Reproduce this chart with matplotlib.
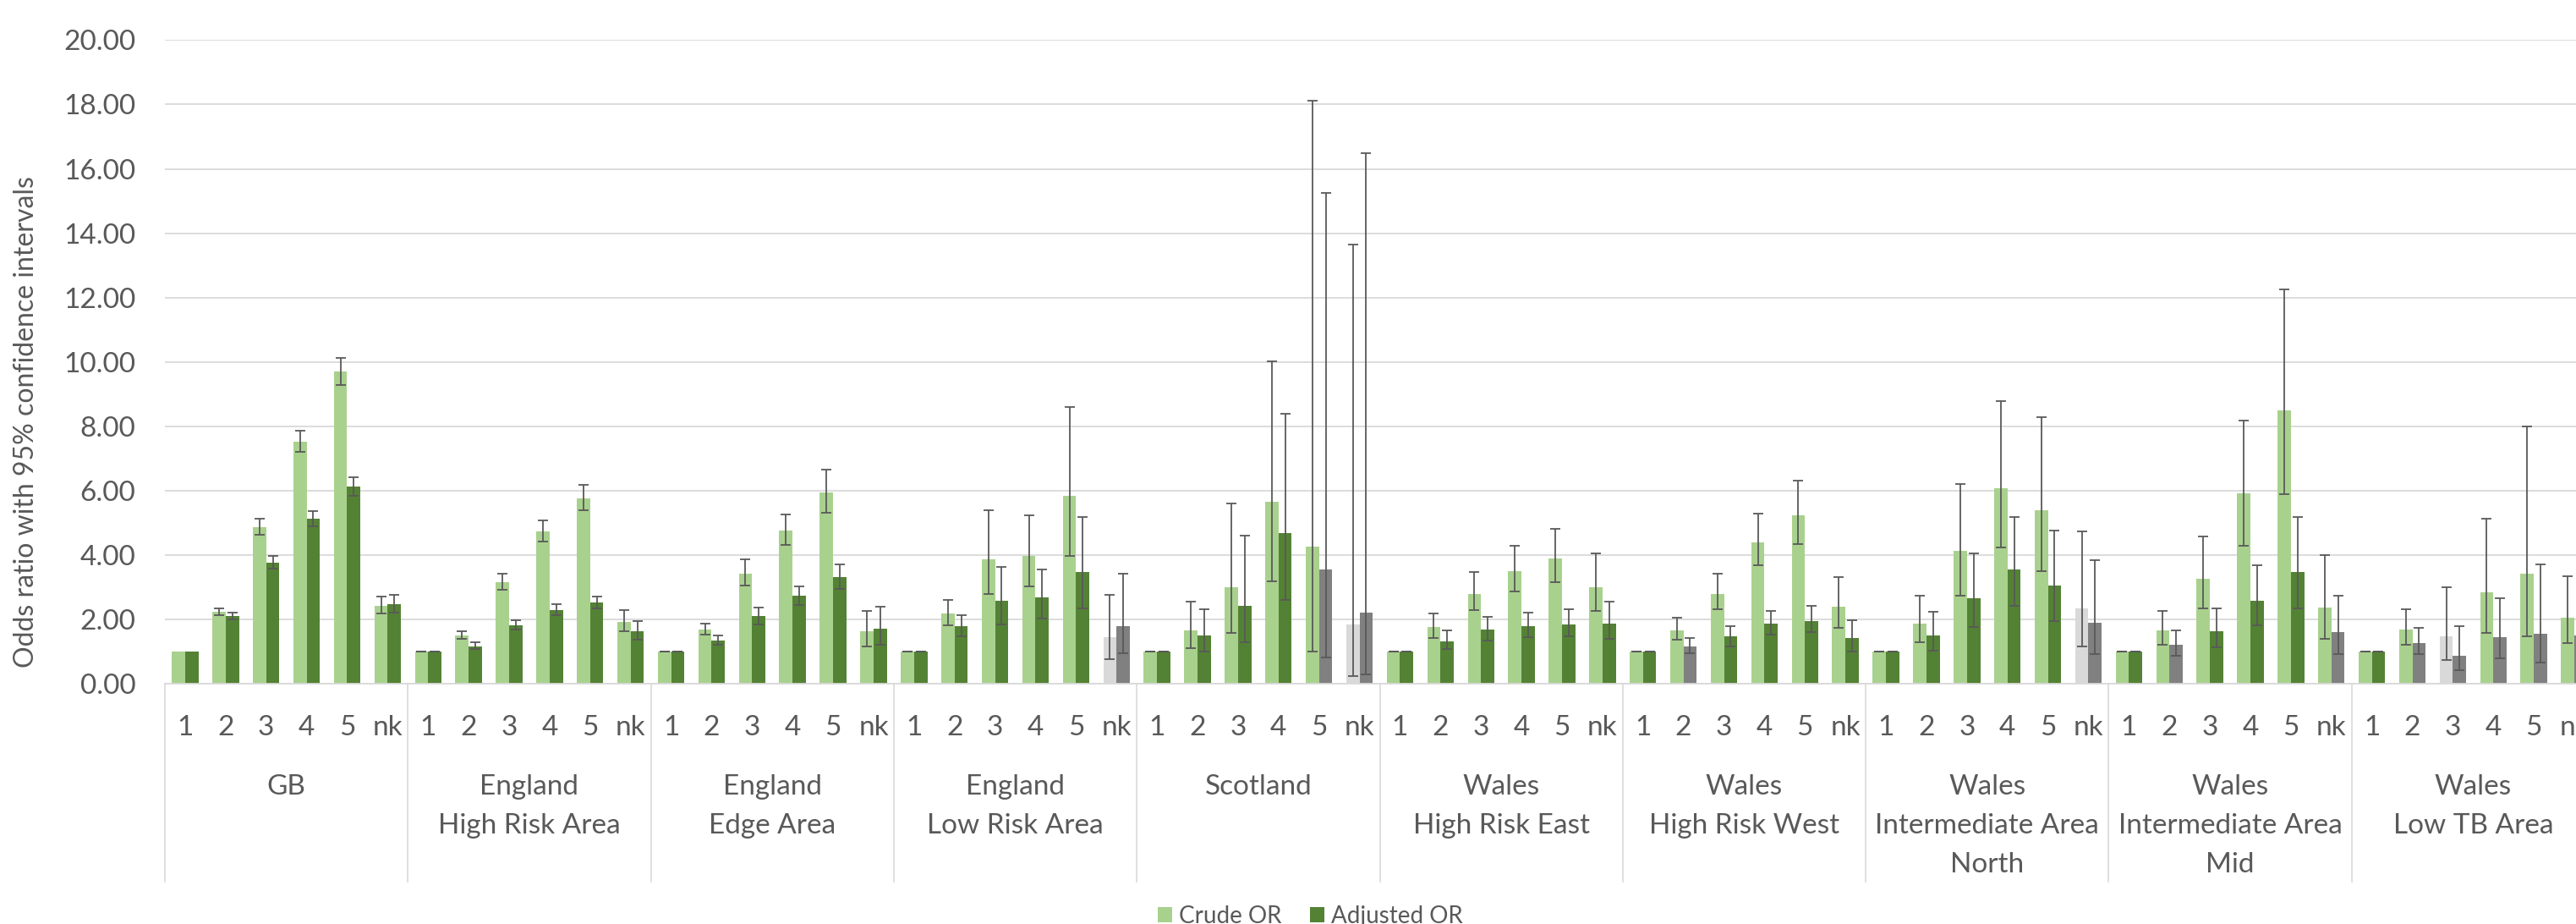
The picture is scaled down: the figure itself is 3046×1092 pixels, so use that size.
import numpy as np
import matplotlib.pyplot as plt
from matplotlib.patches import Patch
from matplotlib.transforms import blended_transform_factory

plt.rcParams['font.family'] = ['Lato', 'DejaVu Sans']

# categories
groups = ["GB", "England\nHigh Risk Area", "England\nEdge Area", "England\nLow Risk Area",
          "Scotland", "Wales\nHigh Risk East", "Wales\nHigh Risk West",
          "Wales\nIntermediate Area\nNorth", "Wales\nIntermediate Area\nMid", "Wales\nLow TB Area"]
cats = ["1", "2", "3", "4", "5", "nk"]
nan = np.nan

# crude odds ratios and 95% CI (one row per group)
crude = [1.00, 2.23, 4.87, 7.52, 9.69, 2.42,
         1.00, 1.50, 3.16, 4.74, 5.76, 1.92,
         1.00, 1.69, 3.43, 4.75, 5.93, 1.63,
         1.00, 2.17, 3.86, 3.98, 5.84, 1.45,
         1.00, 1.66, 3.00, 5.66, 4.26, 1.84,
         1.00, 1.76, 2.80, 3.49, 3.90, 3.01,
         1.00, 1.66, 2.80, 4.39, 5.23, 2.39,
         1.00, 1.88, 4.13, 6.07, 5.38, 2.33,
         1.00, 1.66, 3.26, 5.92, 8.49, 2.36,
         1.00, 1.68, 1.48, 2.84, 3.43, 2.05]
crude_lo = [nan, 2.13, 4.63, 7.21, 9.27, 2.18,
            1.00, 1.39, 2.93, 4.43, 5.39, 1.62,
            1.00, 1.53, 3.05, 4.30, 5.30, 1.17,
            1.00, 1.82, 2.79, 3.03, 3.98, 0.77,
            1.00, 1.10, 1.59, 3.19, 0.99, 0.23,
            1.00, 1.43, 2.28, 2.86, 3.16, 2.25,
            1.00, 1.36, 2.31, 3.67, 4.34, 1.74,
            1.00, 1.30, 2.74, 4.23, 3.50, 1.16,
            1.00, 1.22, 2.33, 4.29, 5.88, 1.39,
            1.00, 1.22, 0.74, 1.57, 1.48, 1.27]
crude_hi = [nan, 2.35, 5.12, 7.87, 10.13, 2.72,
            1.00, 1.63, 3.41, 5.07, 6.17, 2.28,
            1.00, 1.87, 3.86, 5.26, 6.64, 2.27,
            1.00, 2.61, 5.39, 5.24, 8.59, 2.75,
            1.00, 2.54, 5.61, 10.03, 18.13, 13.64,
            1.00, 2.19, 3.46, 4.29, 4.82, 4.04,
            1.00, 2.04, 3.42, 5.28, 6.32, 3.31,
            1.00, 2.73, 6.21, 8.78, 8.27, 4.74,
            1.00, 2.25, 4.57, 8.17, 12.26, 3.99,
            1.00, 2.32, 3.00, 5.14, 8.00, 3.34]

# adjusted odds ratios and 95% CI
adj = [1.00, 2.10, 3.75, 5.12, 6.13, 2.46,
       1.00, 1.17, 1.81, 2.30, 2.52, 1.63,
       1.00, 1.34, 2.10, 2.73, 3.31, 1.70,
       1.00, 1.78, 2.59, 2.68, 3.47, 1.78,
       1.00, 1.50, 2.43, 4.67, 3.55, 2.20,
       1.00, 1.32, 1.68, 1.79, 1.84, 1.88,
       1.00, 1.15, 1.46, 1.86, 1.95, 1.41,
       1.00, 1.50, 2.66, 3.55, 3.04, 1.89,
       1.00, 1.20, 1.63, 2.58, 3.47, 1.60,
       1.00, 1.25, 0.86, 1.45, 1.55, 1.50]
adj_lo = [nan, 2.00, 3.58, 4.90, 5.85, 2.20,
          1.00, 1.08, 1.68, 2.14, 2.33, 1.36,
          1.00, 1.21, 1.85, 2.44, 2.94, 1.21,
          1.00, 1.48, 1.85, 2.02, 2.34, 0.95,
          1.00, 0.99, 1.29, 2.61, 0.81, 0.29,
          1.00, 1.09, 1.35, 1.44, 1.46, 1.40,
          1.00, 0.95, 1.17, 1.52, 1.60, 1.01,
          1.00, 1.03, 1.76, 2.42, 1.95, 0.92,
          1.00, 0.88, 1.13, 1.82, 2.34, 0.92,
          1.00, 0.91, 0.42, 0.78, 0.66, 0.90]
adj_hi = [nan, 2.20, 3.96, 5.36, 6.42, 2.75,
          1.00, 1.28, 1.97, 2.47, 2.71, 1.95,
          1.00, 1.49, 2.37, 3.03, 3.72, 2.39,
          1.00, 2.13, 3.62, 3.54, 5.17, 3.42,
          1.00, 2.32, 4.60, 8.38, 15.26, 16.48,
          1.00, 1.65, 2.09, 2.20, 2.31, 2.56,
          1.00, 1.42, 1.80, 2.27, 2.42, 1.97,
          1.00, 2.23, 4.06, 5.19, 4.77, 3.84,
          1.00, 1.65, 2.33, 3.67, 5.17, 2.73,
          1.00, 1.74, 1.78, 2.66, 3.72, 2.60]

# non-significant results (drawn grey)
crude_ns = [0, 0, 0, 0, 0, 0,
            0, 0, 0, 0, 0, 0,
            0, 0, 0, 0, 0, 0,
            0, 0, 0, 0, 0, 1,
            0, 0, 0, 0, 0, 1,
            0, 0, 0, 0, 0, 0,
            0, 0, 0, 0, 0, 0,
            0, 0, 0, 0, 0, 1,
            0, 0, 0, 0, 0, 0,
            0, 0, 1, 0, 0, 0]
adj_ns = [0, 0, 0, 0, 0, 0,
          0, 0, 0, 0, 0, 0,
          0, 0, 0, 0, 0, 0,
          0, 0, 0, 0, 0, 1,
          0, 0, 0, 0, 1, 1,
          0, 0, 0, 0, 0, 0,
          0, 1, 0, 0, 0, 0,
          0, 0, 0, 0, 0, 1,
          0, 1, 0, 0, 0, 1,
          0, 1, 1, 1, 1, 1]

crude = np.array(crude)
adj = np.array(adj)
crude_err = [crude - np.array(crude_lo), np.array(crude_hi) - crude]
adj_err = [adj - np.array(adj_lo), np.array(adj_hi) - adj]

W, H = 3046, 1092
txt = '#595959'
grid = '#D9D9D9'

fig = plt.figure(figsize=(W / 100, H / 100), dpi=100)
# plot area runs past the right edge, as in the cropped original
ax = fig.add_axes([195 / W, 284 / H, 2873 / W, 760.6 / H])

x = np.arange(len(crude))
bw = 0.328
ccol = ['#D9D9D9' if n else '#A9D18E' for n in crude_ns]
acol = ['#808080' if n else '#548235' for n in adj_ns]
ax.bar(x - bw / 2, crude, bw, color=ccol, zorder=2)
ax.bar(x + bw / 2, adj, bw, color=acol, zorder=2)
for xs, ys, err in [(x - bw / 2, crude, crude_err), (x + bw / 2, adj, adj_err)]:
    ax.errorbar(xs, ys, yerr=err, fmt='none', ecolor=txt, elinewidth=1.3,
                capsize=4.5, capthick=1.3, zorder=3)

ax.set_xlim(-0.5, len(crude) - 0.5)
ax.set_ylim(0, 20)
ax.set_yticks(np.arange(0, 21, 2))
ax.set_yticklabels([f'{v:.2f}' for v in np.arange(0, 21, 2)])
ax.tick_params(axis='y', length=0, pad=25, labelsize=24, labelcolor=txt)
ax.set_xticks([])
ax.grid(axis='y', color=grid, lw=1.3)
ax.set_axisbelow(True)
for s in ['top', 'right', 'left']:
    ax.spines[s].set_visible(False)
ax.spines['bottom'].set_color(grid)
ax.spines['bottom'].set_linewidth(1.3)

# multi-level category axis
trans = blended_transform_factory(ax.transData, fig.transFigure)
for i in x:
    ax.text(i, 1 - 869 / H, cats[i % 6], transform=trans, ha='center', va='baseline',
            fontsize=24, color=txt)
for g, name in enumerate(groups):
    for j, line in enumerate(name.split('\n')):
        ax.text(6 * g + 2.5, 1 - (939 + 46 * j) / H, line, transform=trans,
                ha='center', va='baseline', fontsize=24, color=txt)
for k in range(len(groups) + 1):
    ax.plot([6 * k - 0.5] * 2, [1 - 808 / H, 1 - 1042 / H], transform=trans,
            color=grid, lw=1.2, clip_on=False)

fig.text(31 / W, 1 - 499 / H, 'Odds ratio with 95% confidence intervals', rotation=90,
         ha='center', va='center', fontsize=23, color=txt)

handles = [Patch(facecolor='#A9D18E'), Patch(facecolor='#548235')]
leg = fig.legend(handles, ['Crude OR', 'Adjusted OR'], ncol=2, frameon=False,
                 loc='center', bbox_to_anchor=(1549.5 / W, 1 - 1083 / H),
                 fontsize=20, handlelength=0.61, handleheight=0.61,
                 handletextpad=0.29, columnspacing=1.22)
for t in leg.get_texts():
    t.set_color(txt)

fig.savefig('out.png', dpi=100)
